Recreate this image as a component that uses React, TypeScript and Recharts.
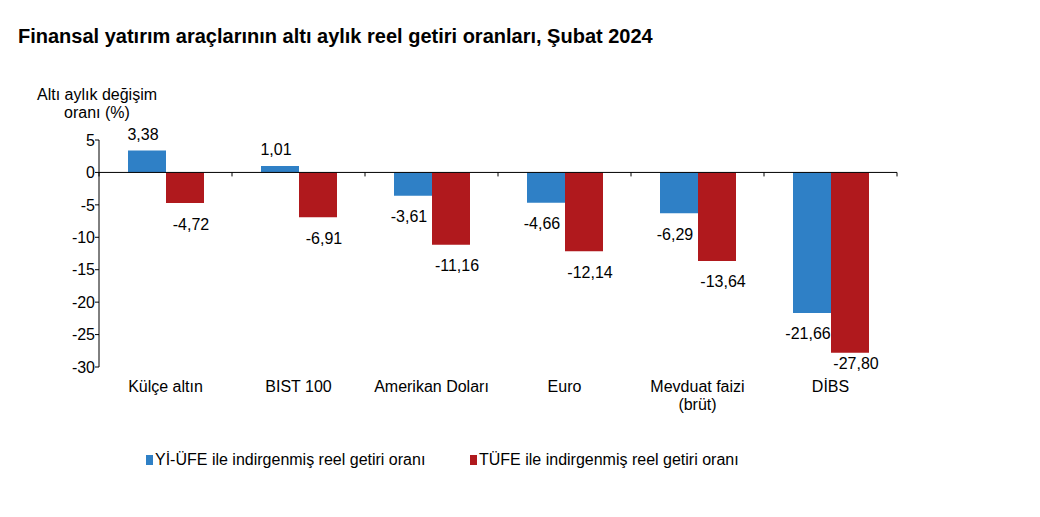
import React from 'react';
import { BarChart, Bar, XAxis, YAxis, ReferenceLine, LabelList } from 'recharts';

const categories = ['Külçe altın', 'BIST 100', 'Amerikan Doları', 'Euro', 'Mevduat faizi\n(brüt)', 'DİBS'];
const yiUfeValues = [3.38, 1.01, -3.61, -4.66, -6.29, -21.66];
const tufeValues = [-4.72, -6.91, -11.16, -12.14, -13.64, -27.8];
const yTicks = [5, 0, -5, -10, -15, -20, -25, -30];
const seriesNames = ['Yİ-ÜFE ile indirgenmiş reel getiri oranı', 'TÜFE ile indirgenmiş reel getiri oranı'];
const titleText = 'Finansal yatırım araçlarının altı aylık reel getiri oranları, Şubat 2024';
const yAxisTitle = ['Altı aylık değişim', 'oranı (%)'];

const data = categories.map((c, i) => ({ name: c, yi: yiUfeValues[i], tufe: tufeValues[i] }));

const W = 1040;
const H = 517;
const M = { top: 140, right: 143, bottom: 120, left: 0 };
const X_AXIS_H = 30;
const PLOT_BOTTOM = H - M.bottom - X_AXIS_H;
const FONT = '"Liberation Sans", Arial, sans-serif';
const FS = 16;
const BLUE = '#2F80C6';
const RED = '#B0191D';

const CatTick = (props: any) => {
  const { x, y, payload } = props;
  const lines = String(payload.value).split('\n');
  return (
    <g>
      {lines.map((l, i) => (
        <text key={i} x={x} y={y + 25 + i * 18} textAnchor="middle" fontSize={FS} fill="#000" fontFamily={FONT}>
          {l}
        </text>
      ))}
    </g>
  );
};

const makeLabel = (dx: number) => (props: any) => {
  const { x, y, width, height, value } = props;
  const v = Number(value);
  const top = Math.min(y, y + height);
  const bottom = Math.max(y, y + height);
  const cx = x + width / 2 + dx;
  const ty = v >= 0 ? top - 11 : Math.min(bottom + 26.5, PLOT_BOTTOM + 1.5);
  return (
    <text x={cx} y={ty} textAnchor="middle" fontSize={FS} fontFamily={FONT} fill="#000">
      {v.toFixed(2).replace('.', ',')}
    </text>
  );
};

const ZeroLine = (props: any) => {
  const { x1, x2, y1 } = props;
  const n = categories.length;
  const step = (x2 - x1) / n;
  const ticks = [];
  for (let i = 0; i <= n; i++) {
    const tx = x1 + i * step;
    ticks.push(<line key={i} x1={tx} x2={tx} y1={y1} y2={y1 + 4} stroke="#000" strokeWidth={1} />);
  }
  return (
    <g>
      <line x1={x1} x2={x2} y1={y1} y2={y1} stroke="#000" strokeWidth={1} />
      {ticks}
    </g>
  );
};

const legendItem = (left: number, color: string, text: string) => (
  <div style={{ position: 'absolute', left, top: 450, fontSize: FS, lineHeight: '20px', color: '#000', display: 'flex', alignItems: 'center', whiteSpace: 'nowrap' }}>
    <span style={{ display: 'inline-block', width: 7, height: 10, background: color, marginRight: 2 }} />
    <span>{text}</span>
  </div>
);

export default function App() {
  return (
    <div style={{ position: 'absolute', left: 0, top: 0, width: W, height: H, background: '#fff', fontFamily: FONT }}>
      <div style={{ position: 'absolute', left: 18, top: 24, fontSize: 20, fontWeight: 'bold', lineHeight: '24px', color: '#000', whiteSpace: 'nowrap' }}>
        {titleText}
      </div>
      <div style={{ position: 'absolute', left: 17, width: 160, top: 86, fontSize: FS, lineHeight: '18px', color: '#000', textAlign: 'center' }}>
        {yAxisTitle.map((t, i) => (
          <div key={i}>{t}</div>
        ))}
      </div>
      <div style={{ position: 'absolute', left: 0, top: 0 }}>
        <BarChart width={W} height={H} data={data} margin={M} barCategoryGap={29} barGap={0}>
          <XAxis
            dataKey="name"
            height={X_AXIS_H}
            axisLine={false}
            tickLine={false}
            tickSize={0}
            tickMargin={0}
            interval={0}
            tick={<CatTick />}
          />
          <YAxis
            type="number"
            domain={[-30, 5]}
            ticks={yTicks}
            interval={0}
            width={99}
            tickSize={4}
            tickMargin={0}
            axisLine={{ stroke: '#000' }}
            tickLine={{ stroke: '#000' }}
            tick={{ fontSize: FS, fill: '#000', fontFamily: FONT }}
          />
          <Bar dataKey="yi" name={seriesNames[0]} fill={BLUE} isAnimationActive={false}>
            <LabelList dataKey="yi" content={makeLabel(-4)} />
          </Bar>
          <Bar dataKey="tufe" name={seriesNames[1]} fill={RED} isAnimationActive={false}>
            <LabelList dataKey="tufe" content={makeLabel(6)} />
          </Bar>
          <ReferenceLine y={0} shape={<ZeroLine />} ifOverflow="visible" />
        </BarChart>
      </div>
      {legendItem(146, BLUE, seriesNames[0])}
      {legendItem(470, RED, seriesNames[1])}
    </div>
  );
}
